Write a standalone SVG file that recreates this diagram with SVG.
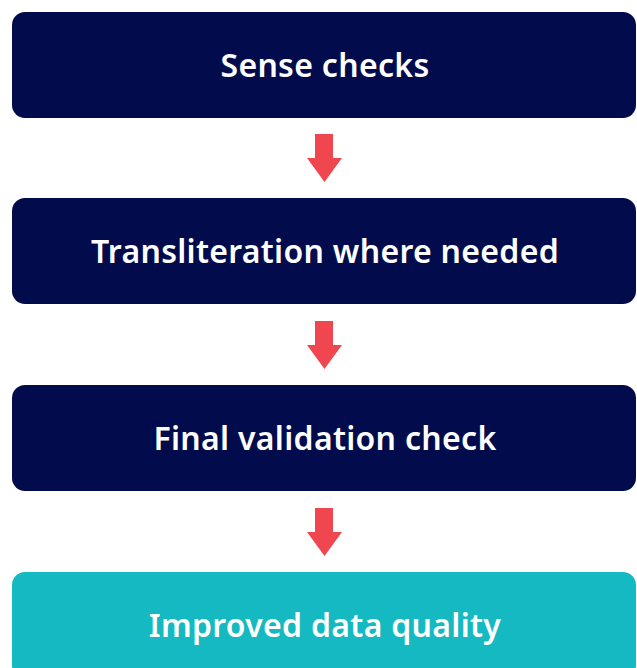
<svg xmlns="http://www.w3.org/2000/svg" width="637" height="668" viewBox="0 0 637 668">
<defs>
<style>
.box{fill:#020C4D}
.out{fill:#15B9C1}
.lbl{font-family:"Noto Sans","Open Sans",sans-serif;font-weight:600;font-size:32px;letter-spacing:0.3px;fill:#FFFFFF;text-anchor:middle}
.arr{fill:#F04650}
</style>
</defs>
<g id="node1"><rect class="box" x="12" y="12" width="624" height="106" rx="13"/><text class="lbl" x="325" y="77">Sense checks</text></g>
<g id="node2"><rect class="box" x="12" y="198" width="624" height="106" rx="13"/><text class="lbl" x="325" y="263">Transliteration where needed</text></g>
<g id="node3"><rect class="box" x="12" y="385" width="624" height="106" rx="13"/><text class="lbl" x="325" y="450">Final validation check</text></g>
<g id="node4"><rect class="out" x="12" y="572" width="624" height="106" rx="13"/><text class="lbl" x="325" y="637">Improved data quality</text></g>
<g id="connectors">
<polygon class="arr" points="315,134 333,134 333,158 342,158 324.5,182 307,158 315,158"/>
<polygon class="arr" points="315,321 333,321 333,345 342,345 324.5,369 307,345 315,345"/>
<polygon class="arr" points="315,508 333,508 333,532 342,532 324.5,556 307,532 315,532"/>
</g>
</svg>
